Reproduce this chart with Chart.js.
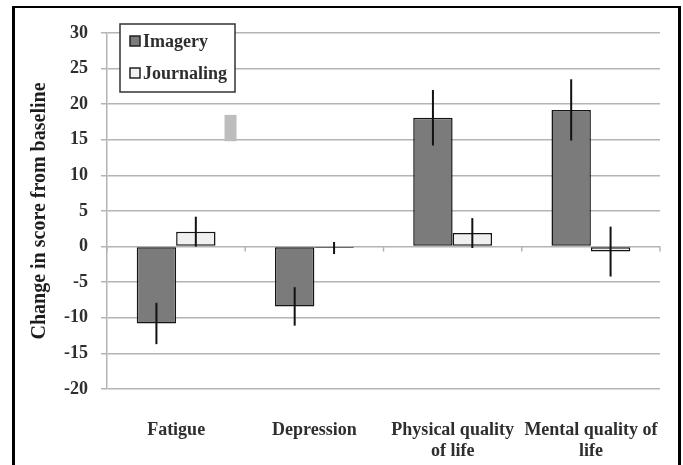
<!DOCTYPE html>
<html>
<head>
<meta charset="utf-8">
<script src="https://cdn.jsdelivr.net/npm/chart.js@4"></script>
<style>
  html, body { margin: 0; padding: 0; background: #fff; }
  canvas { display: block; }
</style>
</head>
<body>
<canvas id="chart" width="683" height="465"></canvas>
<script>
const categories = ["Fatigue", "Depression", ["Physical quality", "of life"], ["Mental quality of", "life"]];
const seriesNames = ["Imagery", "Journaling"];
const imagery = [-10.8, -8.4, 18.1, 19.2];
const imageryErr = [2.9, 2.7, 3.9, 4.3];
const journaling = [2.1, -0.2, 1.9, -0.7];
const journalingErr = [2.1, 0.85, 2.1, 3.5];
const smudge = [14.8, 18.5];
const yTicks = [30, 25, 20, 15, 10, 5, 0, -5, -10, -15, -20];

const serif = "'Liberation Serif', 'DejaVu Serif', serif";
const textColor = "#2e2e2e";
const gridColor = "#b4b4b4";

const errorBars = {
  id: "errorBars",
  afterDatasetsDraw(chart) {
    const { ctx, scales: { y } } = chart;
    const errs = [imageryErr, journalingErr];
    ctx.save();
    ctx.strokeStyle = "#111";
    ctx.lineWidth = 2;
    chart.data.datasets.forEach((ds, i) => {
      chart.getDatasetMeta(i).data.forEach((bar, j) => {
        const v = ds.data[j];
        const e = errs[i][j];
        ctx.beginPath();
        ctx.moveTo(bar.x, y.getPixelForValue(v + e));
        ctx.lineTo(bar.x, y.getPixelForValue(v - e));
        ctx.stroke();
      });
    });

    // grey smudge next to the first journaling bar
    const jb = chart.getDatasetMeta(1).data[0];
    const x0 = jb.x + jb.width / 2 + 9;
    ctx.fillStyle = "#bdbdbd";
    const yTop = y.getPixelForValue(smudge[1]);
    ctx.fillRect(x0, yTop, 12, y.getPixelForValue(smudge[0]) - yTop);

    // small tick marks on the zero line at category boundaries
    const x = chart.scales.x;
    const y0 = y.getPixelForValue(0);
    const half = (x.getPixelForValue(1) - x.getPixelForValue(0)) / 2;
    ctx.strokeStyle = gridColor;
    ctx.lineWidth = 1.5;
    for (let k = 0; k <= categories.length; k++) {
      const px = x.getPixelForValue(0) - half + k * half * 2;
      ctx.beginPath();
      ctx.moveTo(px, y0);
      ctx.lineTo(px, y0 + 5);
      ctx.stroke();
    }
    ctx.restore();
  },
};

const boxLegend = {
  id: "boxLegend",
  afterDraw(chart) {
    const { ctx } = chart;
    ctx.save();
    ctx.fillStyle = "#fff";
    ctx.fillRect(120, 24, 115, 68);
    ctx.strokeStyle = "#333";
    ctx.lineWidth = 1.5;
    ctx.strokeRect(120, 24, 115, 68);
    const rows = [41, 73];
    chart.data.datasets.forEach((ds, i) => {
      ctx.fillStyle = ds.backgroundColor;
      ctx.fillRect(130, rows[i] - 5, 10, 10);
      ctx.strokeStyle = "#222";
      ctx.lineWidth = 1.5;
      ctx.strokeRect(130, rows[i] - 5, 10, 10);
      ctx.fillStyle = textColor;
      ctx.font = `bold 18px ${serif}`;
      ctx.textBaseline = "middle";
      ctx.fillText(ds.label, 143, rows[i] + 1);
    });

    // frame round the figure
    ctx.fillStyle = "#000";
    ctx.fillRect(12, 6, 3, 465);
    ctx.fillRect(12, 6, 669, 2);
    ctx.fillRect(678, 6, 3, 465);
    ctx.restore();
  },
};

new Chart(document.getElementById("chart"), {
  type: "bar",
  data: {
    labels: categories,
    datasets: [
      {
        label: seriesNames[0],
        data: imagery,
        backgroundColor: "#7b7b7b",
        borderColor: "#151515",
        borderWidth: 1.5,
        borderSkipped: false,
      },
      {
        label: seriesNames[1],
        data: journaling,
        backgroundColor: "#f0f0f0",
        borderColor: "#151515",
        borderWidth: 1.5,
        borderSkipped: false,
      },
    ],
  },
  options: {
    responsive: false,
    animation: false,
    categoryPercentage: 0.57,
    barPercentage: 1.0,
    layout: { padding: { left: 0, right: 21, top: 33, bottom: 0 } },
    plugins: { legend: { display: false }, tooltip: { enabled: false } },
    scales: {
      x: {
        grid: { display: false },
        border: { display: false },
        ticks: {
          color: textColor,
          font: { family: serif, size: 18, weight: "bold", lineHeight: 1.15 },
          padding: 23,
          maxRotation: 0,
        },
        afterFit(scale) { scale.height = 76; },
      },
      y: {
        min: -20,
        max: 30,
        afterBuildTicks(scale) { scale.ticks = yTicks.map((v) => ({ value: v })); },
        grid: { color: gridColor, lineWidth: 1.5, tickLength: 6 },
        border: { color: gridColor, width: 1.5 },
        ticks: {
          color: textColor,
          font: { family: serif, size: 18, weight: "bold" },
          padding: 13,
        },
        title: {
          display: true,
          text: "Change in score from baseline",
          color: "#1e1e1e",
          font: { family: serif, size: 20, weight: "bold" },
          padding: { top: 28, bottom: 0 },
        },
        afterFit(scale) { scale.width = 107; },
      },
    },
  },
  plugins: [errorBars, boxLegend],
});
</script>
</body>
</html>
